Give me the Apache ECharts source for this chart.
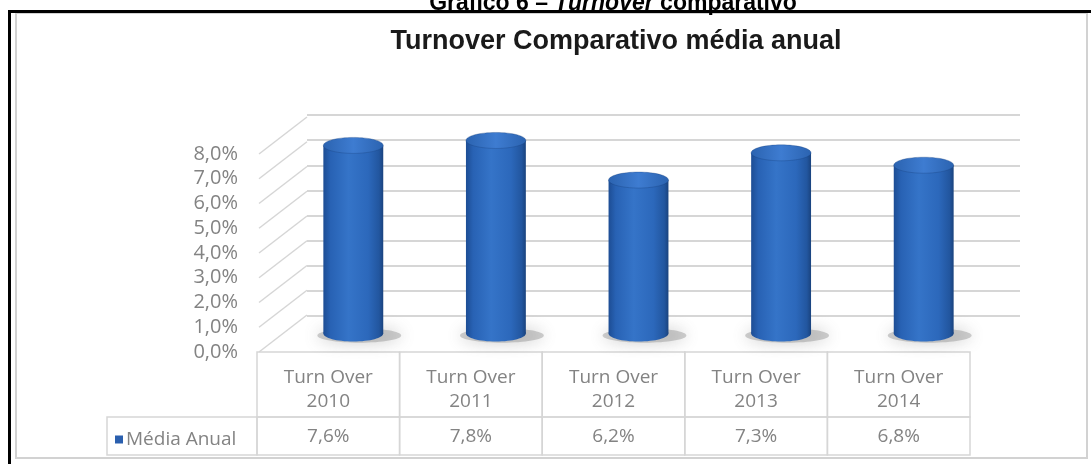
<!DOCTYPE html>
<html>
<head>
<meta charset="utf-8">
<script src="https://cdn.jsdelivr.net/npm/echarts@6/dist/echarts.min.js"></script>
<style>
  html, body { margin: 0; padding: 0; background: #ffffff; }
  #chart { width: 1091px; height: 464px; }
</style>
</head>
<body>
<div id="chart"></div>
<script>
// Data
const categories = ['Turn Over\n2010', 'Turn Over\n2011', 'Turn Over\n2012', 'Turn Over\n2013', 'Turn Over\n2014'];
const seriesName = 'Média Anual';
const values = [7.6, 7.8, 6.2, 7.3, 6.8];
const yTicks = [0, 1, 2, 3, 4, 5, 6, 7, 8];
const yMax = 8;
const yStep = 1;

// Oblique depth of the 3D plot box (back wall relative to front edge)
const DEPTH_X = 50;
const DEPTH_Y = -37;

const TEXT_GRAY = '#838383';
const LINE_GRAY = '#d6d6d6';
const TABLE_FONT = '"Open Sans", sans-serif';

const pct = v => v.toFixed(1).replace('.', ',') + '%';

const chart = echarts.init(document.getElementById('chart'), null, { renderer: 'canvas' });

// Cylinder bars, drawn half way into the depth of the box
function renderCylinder(params, api) {
  const idx = api.value(0);
  const val = api.value(1);
  const base = api.coord([idx, 0]);
  const top = api.coord([idx, val]);
  const colW = api.size([1, 0])[0];
  const cx = base[0] + DEPTH_X / 2;
  const yb = base[1] + DEPTH_Y / 2;
  const yt = top[1] + DEPTH_Y / 2;
  const rx = colW * 0.21;
  const ry = 8;
  const bodyFill = new echarts.graphic.LinearGradient(0, 0, 1, 0, [
    { offset: 0, color: '#1d4d94' },
    { offset: 0.12, color: '#2862b4' },
    { offset: 0.42, color: '#3574c8' },
    { offset: 0.75, color: '#2c68bb' },
    { offset: 0.93, color: '#22569f' },
    { offset: 1, color: '#1a437e' }
  ]);
  return {
    type: 'group',
    children: [
      {
        // soft floor shadow
        type: 'ellipse',
        shape: { cx: cx + 6, cy: yb + 2, rx: rx * 1.4, ry: ry * 0.9 },
        style: {
          fill: 'rgba(120,120,120,0.35)',
          shadowBlur: 16,
          shadowColor: 'rgba(100,100,100,0.95)'
        }
      },
      {
        type: 'ellipse',
        shape: { cx: cx, cy: yb, rx: rx, ry: ry },
        style: { fill: bodyFill }
      },
      {
        type: 'rect',
        shape: { x: cx - rx, y: yt, width: rx * 2, height: yb - yt },
        style: { fill: bodyFill }
      },
      {
        type: 'ellipse',
        shape: { cx: cx, cy: yt, rx: rx, ry: ry },
        style: {
          fill: new echarts.graphic.LinearGradient(0, 0, 1, 0, [
            { offset: 0, color: '#2b63b0' },
            { offset: 0.5, color: '#3e7cd1' },
            { offset: 1, color: '#2b63b0' }
          ]),
          stroke: 'rgba(20,60,120,0.3)',
          lineWidth: 1
        }
      }
    ]
  };
}

// Diagonal lines joining the front edge to the back wall gridlines
function renderConnector(params, api) {
  const p = api.coord([0, api.value(1)]);
  const left = p[0] - api.size([1, 0])[0] / 2;
  return {
    type: 'line',
    shape: { x1: left + 2, y1: p[1], x2: left + DEPTH_X, y2: p[1] + DEPTH_Y },
    style: { stroke: LINE_GRAY, lineWidth: 1.5 }
  };
}

// Data table beneath the plot (category row + value row)
const HEADER_H = 65;
const VALUE_H = 38;
const LABEL_CELL_W = 150;
function renderTable(params, api) {
  const idx = api.value(0);
  const val = api.value(1);
  const base = api.coord([idx, 0]);
  const colW = api.size([1, 0])[0];
  const x0 = base[0] - colW / 2;
  const y0 = base[1];
  const children = [
    {
      type: 'rect',
      shape: { x: x0, y: y0, width: colW, height: HEADER_H },
      style: { fill: 'none', stroke: LINE_GRAY, lineWidth: 1.5 }
    },
    {
      type: 'rect',
      shape: { x: x0, y: y0 + HEADER_H, width: colW, height: VALUE_H },
      style: { fill: 'none', stroke: LINE_GRAY, lineWidth: 1.5 }
    },
    {
      type: 'text',
      x: x0 + colW / 2,
      y: y0 + 38,
      style: {
        text: categories[idx],
        fill: TEXT_GRAY,
        font: '19px ' + TABLE_FONT,
        lineHeight: 24,
        align: 'center',
        verticalAlign: 'middle'
      }
    },
    {
      type: 'text',
      x: x0 + colW / 2,
      y: y0 + HEADER_H + VALUE_H / 2 + 1,
      style: {
        text: pct(val),
        fill: TEXT_GRAY,
        font: '19px ' + TABLE_FONT,
        align: 'center',
        verticalAlign: 'middle'
      }
    }
  ];
  if (idx === 0) {
    children.push({
      type: 'rect',
      shape: { x: x0 - LABEL_CELL_W, y: y0 + HEADER_H, width: LABEL_CELL_W, height: VALUE_H },
      style: { fill: 'none', stroke: LINE_GRAY, lineWidth: 1.5 }
    });
  }
  return { type: 'group', children: children };
}

const option = {
  backgroundColor: '#ffffff',
  animation: false,
  title: {
    text: 'Turnover Comparativo média anual',
    left: 611,
    top: 23,
    textAlign: 'center',
    textStyle: {
      fontFamily: '"Liberation Sans", Arial, sans-serif',
      fontSize: 27,
      fontWeight: 'bold',
      color: '#1a1a1a'
    }
  },
  legend: {
    data: [seriesName],
    left: 110,
    top: 425,
    selectedMode: false,
    icon: 'rect',
    itemWidth: 8,
    itemHeight: 8,
    itemGap: 4,
    textStyle: { color: TEXT_GRAY, fontSize: 19, fontFamily: TABLE_FONT, padding: [0, 0, 0, -2] }
  },
  grid: [
    { left: 257, right: 121, top: 154, bottom: 112 },
    { left: 307, right: 71, top: 115, bottom: 148 }
  ],
  xAxis: [
    { type: 'category', gridIndex: 0, data: categories, show: false },
    { type: 'category', gridIndex: 1, data: categories, show: false }
  ],
  yAxis: [
    {
      type: 'value', gridIndex: 0, min: 0, max: yMax, interval: yStep,
      axisLine: { show: false }, axisTick: { show: false }, splitLine: { show: false },
      axisLabel: {
        margin: 19,
        color: TEXT_GRAY,
        fontSize: 20,
        fontFamily: TABLE_FONT,
        formatter: v => pct(v)
      }
    },
    {
      type: 'value', gridIndex: 1, min: 0, max: yMax, interval: yStep,
      axisLine: { show: false }, axisTick: { show: false }, axisLabel: { show: false },
      splitLine: { show: true, lineStyle: { color: LINE_GRAY, width: 2 } }
    }
  ],
  series: [
    {
      type: 'custom',
      name: 'connectors',
      xAxisIndex: 0, yAxisIndex: 0,
      silent: true,
      renderItem: renderConnector,
      data: yTicks.map(v => [0, v]),
      encode: { x: 0, y: 1 },
      z: 1
    },
    {
      type: 'custom',
      name: 'table',
      xAxisIndex: 0, yAxisIndex: 0,
      silent: true,
      renderItem: renderTable,
      data: values.map((v, i) => [i, v]),
      encode: { x: 0, y: 1 },
      z: 2
    },
    {
      type: 'custom',
      name: seriesName,
      xAxisIndex: 0, yAxisIndex: 0,
      itemStyle: { color: '#2a5fae' },
      renderItem: renderCylinder,
      data: values.map((v, i) => [i, v]),
      encode: { x: 0, y: 1 },
      z: 3
    }
  ],
  graphic: [
    {
      type: 'rect',
      shape: { x: 16, y: 13, width: 1071, height: 445 },
      style: { fill: 'none', stroke: '#d2d2d2', lineWidth: 2 },
      z: 0
    },
    {
      type: 'line',
      shape: { x1: 9.5, y1: 10, x2: 9.5, y2: 464 },
      style: { stroke: '#000000', lineWidth: 3 },
      z: 10
    },
    {
      type: 'line',
      shape: { x1: 8, y1: 11.5, x2: 1091, y2: 11.5 },
      style: { stroke: '#000000', lineWidth: 3 },
      z: 10
    },
    {
      type: 'text',
      x: 613,
      y: 15,
      style: {
        text: '{b|Gráfico 6 – }{i|Turnover}{b| comparativo}',
        align: 'center',
        verticalAlign: 'bottom',
        rich: {
          b: { fontFamily: '"Liberation Sans", Arial, sans-serif', fontSize: 23, fontWeight: 'bold', fill: '#000' },
          i: { fontFamily: '"Liberation Sans", Arial, sans-serif', fontSize: 23, fontWeight: 'bold', fontStyle: 'italic', fill: '#000' }
        }
      },
      z: 9
    }
  ]
};

chart.setOption(option);
</script>
</body>
</html>
